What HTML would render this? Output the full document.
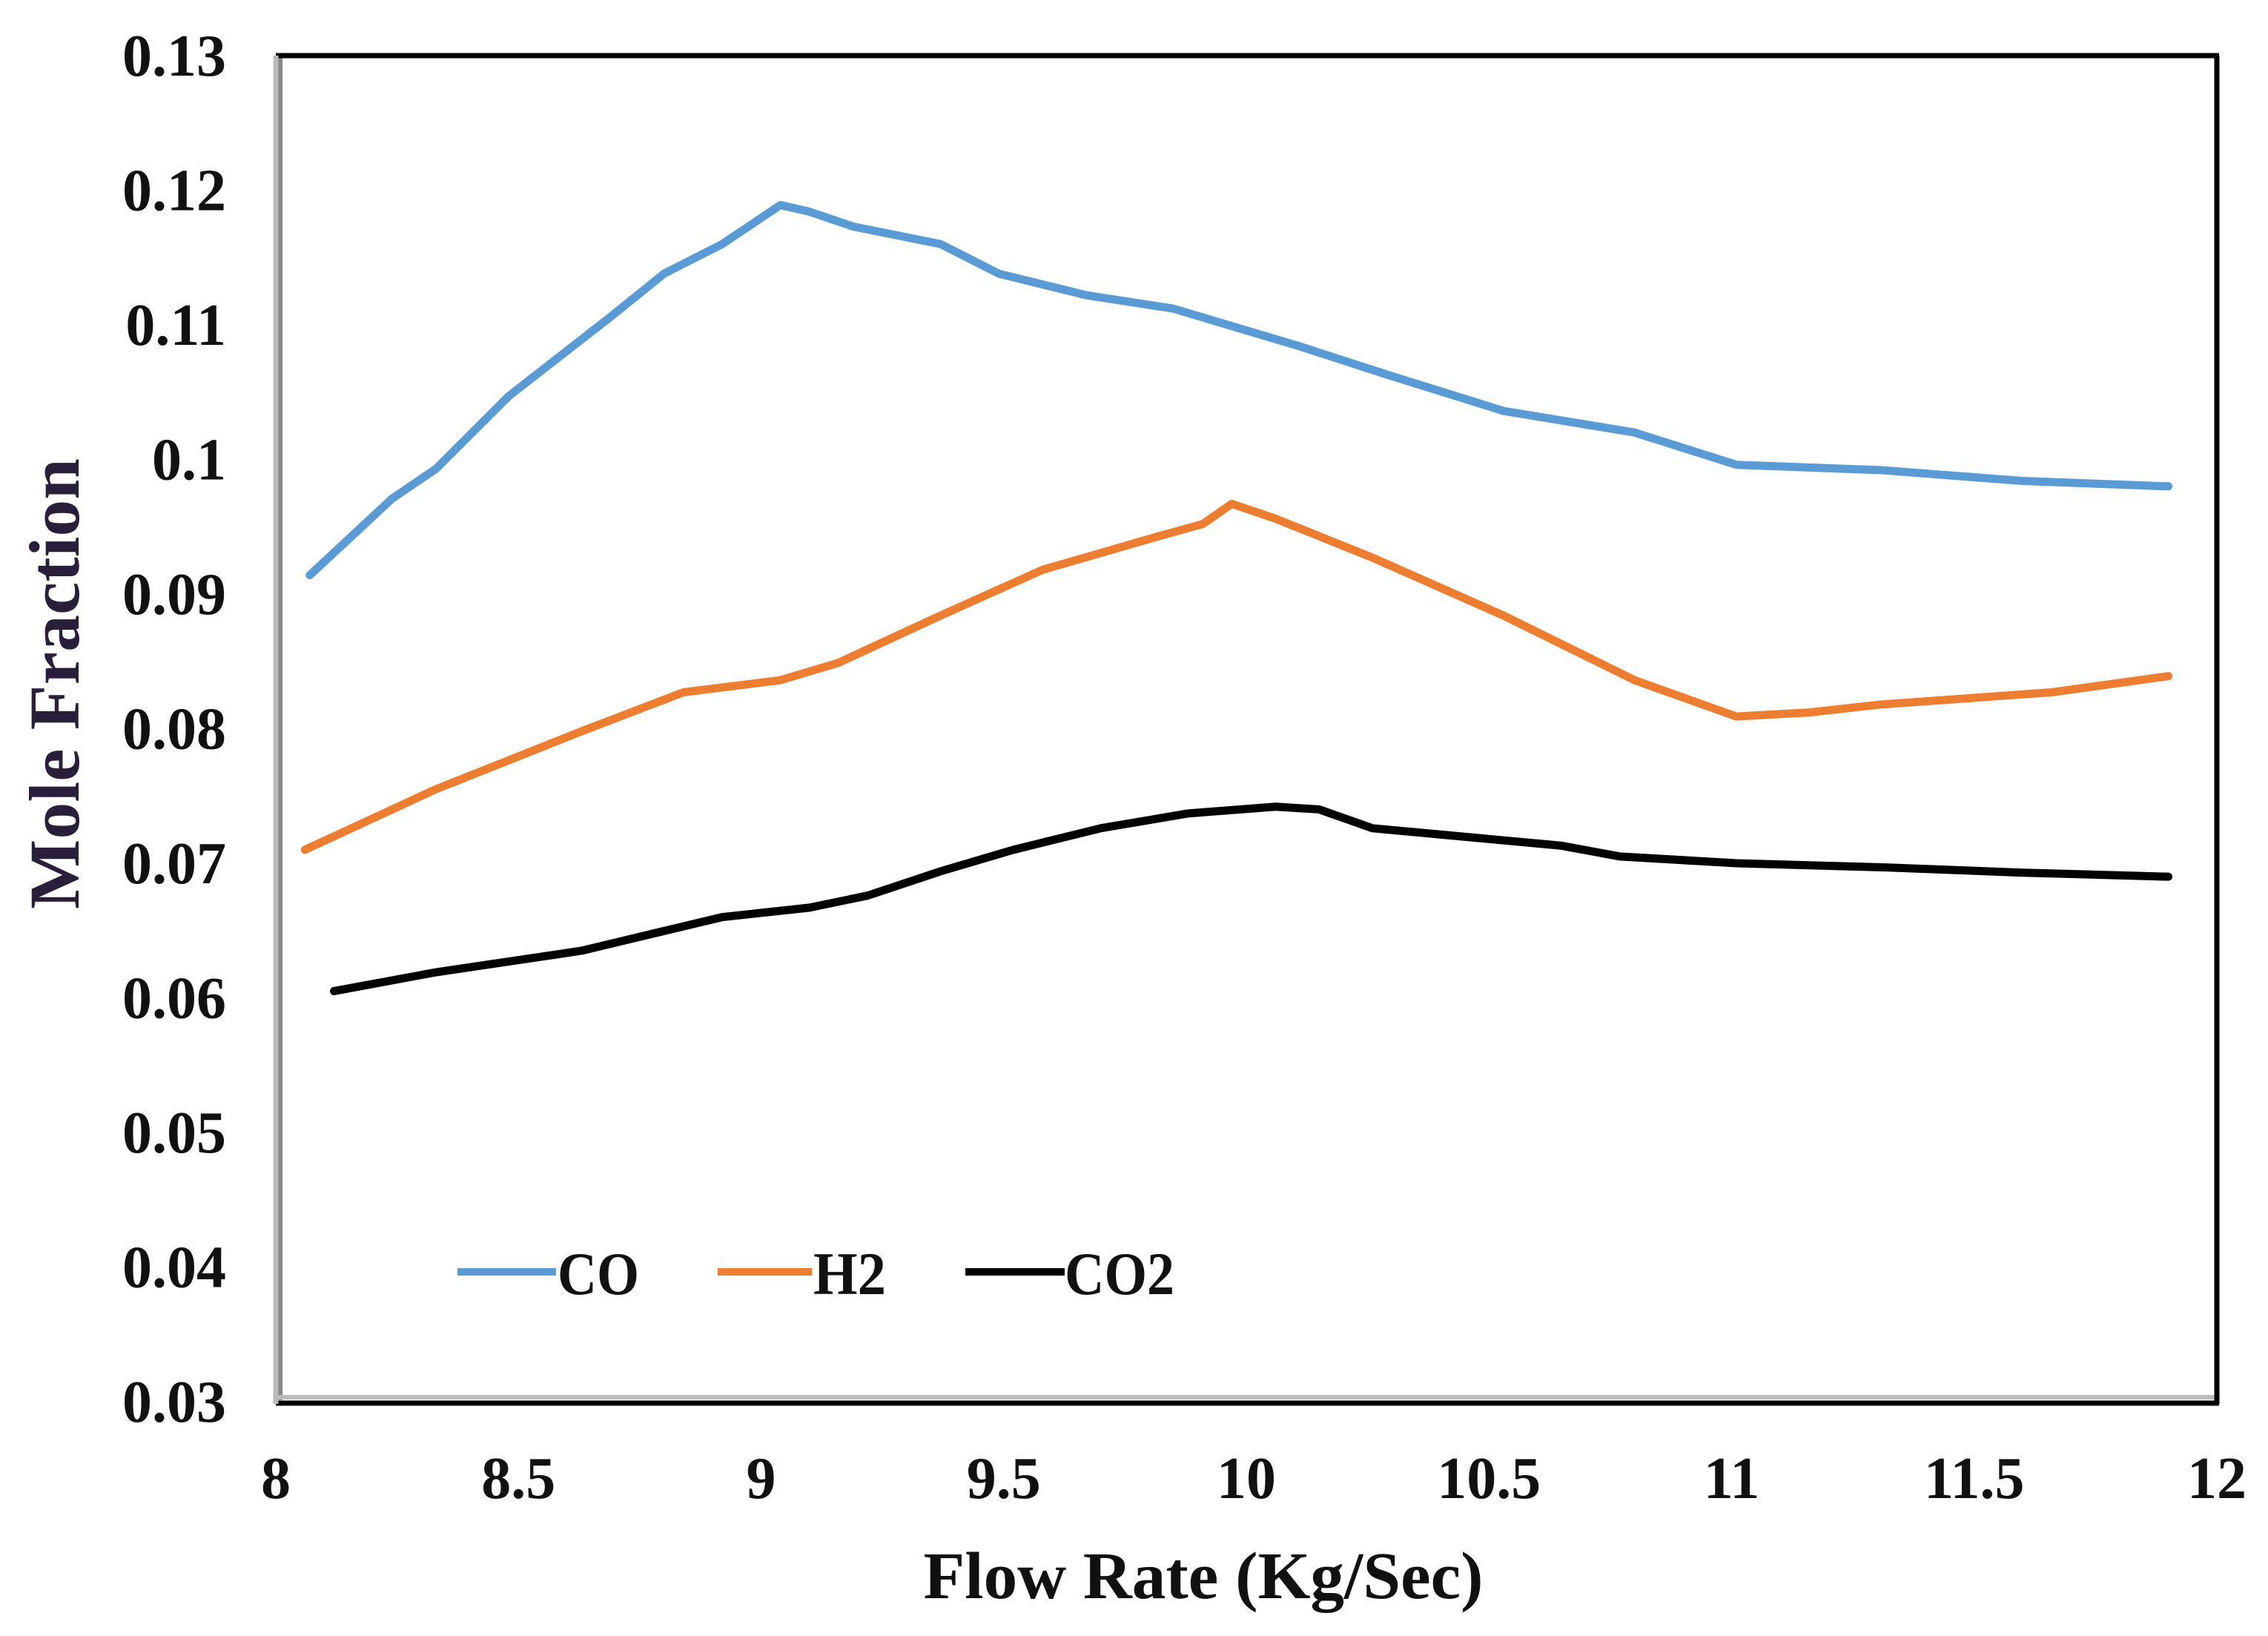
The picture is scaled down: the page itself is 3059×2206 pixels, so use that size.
<!DOCTYPE html>
<html><head><meta charset="utf-8"><style>
html,body{margin:0;padding:0;background:#fff;}
svg{display:block;}
text{font-family:"Liberation Serif",serif;font-weight:bold;fill:#111;}
</style></head><body>
<svg id="chart" width="3059" height="2206" viewBox="0 0 3059 2206" xmlns="http://www.w3.org/2000/svg">
<rect x="372" y="75" width="2618" height="1815" fill="#fff"/>
<g id="series"></g>
<line x1="378" y1="78" x2="378" y2="1888" stroke="#888" stroke-width="6"/>
<line x1="372" y1="1884" x2="2990" y2="1884" stroke="#bbb" stroke-width="6"/>
<line x1="372" y1="75" x2="2993" y2="75" stroke="#000" stroke-width="7"/>
<line x1="2990" y1="75" x2="2990" y2="1893" stroke="#000" stroke-width="7"/>
<line x1="372" y1="1892" x2="2993" y2="1892" stroke="#000" stroke-width="7"/>
<line x1="372" y1="75" x2="372" y2="1893" stroke="#bbb" stroke-width="7"/>
<g id="yticks"></g><g id="xticks"></g>
<text x="1623" y="2155" font-size="90" text-anchor="middle" textLength="755" lengthAdjust="spacingAndGlyphs">Flow Rate (Kg/Sec)</text>
<text x="0" y="0" font-size="96" text-anchor="middle" textLength="608" lengthAdjust="spacingAndGlyphs" transform="translate(106,922) rotate(-90)" style="fill:#2a1f3a">Mole Fraction</text>
<g>
<line x1="617" y1="1715" x2="750" y2="1715" stroke="#5b9bd5" stroke-width="10"/>
<text x="752" y="1745" font-size="82" textLength="110" lengthAdjust="spacingAndGlyphs">CO</text>
<line x1="968" y1="1715" x2="1095" y2="1715" stroke="#ed7d31" stroke-width="10"/>
<text x="1097" y="1745" font-size="82" textLength="98" lengthAdjust="spacingAndGlyphs">H2</text>
<line x1="1302" y1="1715" x2="1436" y2="1715" stroke="#000" stroke-width="10"/>
<text x="1436" y="1745" font-size="82" textLength="148" lengthAdjust="spacingAndGlyphs">CO2</text>
</g>
</svg>
<script>
const xTicks = [8, 8.5, 9, 9.5, 10, 10.5, 11, 11.5, 12];
const xTickLabels = ["8","8.5","9","9.5","10","10.5","11","11.5","12"];
const yTicks = [0.03,0.04,0.05,0.06,0.07,0.08,0.09,0.1,0.11,0.12,0.13];
const yTickLabels = ["0.03","0.04","0.05","0.06","0.07","0.08","0.09","0.1","0.11","0.12","0.13"];
const coX = [8.07,8.24,8.33,8.48,8.69,8.80,8.92,9.04,9.10,9.19,9.37,9.49,9.67,9.85,10.11,10.29,10.53,10.80,11.01,11.31,11.60,11.90];
const coY = [0.0914,0.0971,0.0993,0.1047,0.1106,0.1138,0.1160,0.1189,0.1184,0.1173,0.1160,0.1138,0.1122,0.1112,0.1084,0.1063,0.1036,0.1020,0.0996,0.0992,0.0984,0.0980];
const h2X = [8.06,8.33,8.63,8.84,9.04,9.16,9.37,9.58,9.82,9.91,9.97,10.06,10.26,10.53,10.80,11.01,11.16,11.31,11.66,11.90];
const h2Y = [0.0710,0.0755,0.0798,0.0827,0.0836,0.0849,0.0884,0.0918,0.0943,0.0952,0.0967,0.0956,0.0927,0.0884,0.0836,0.0809,0.0812,0.0818,0.0827,0.0839];
const co2X = [8.12,8.33,8.63,8.92,9.10,9.22,9.37,9.52,9.70,9.88,10.06,10.15,10.26,10.41,10.65,10.77,11.01,11.31,11.60,11.90];
const co2Y = [0.0605,0.0619,0.0635,0.0660,0.0667,0.0676,0.0694,0.0710,0.0726,0.0737,0.0742,0.0740,0.0726,0.0721,0.0713,0.0705,0.0700,0.0697,0.0693,0.0690];

const X0=372, X1=2990, Y0=1890, Y1=75;
function sx(v){return X0+(v-8)/(12-8)*(X1-X0);}
function sy(v){return Y0-(v-0.03)/(0.13-0.03)*(Y0-Y1);}
const NS="http://www.w3.org/2000/svg";
const yg=document.getElementById('yticks');
yTicks.forEach((t,i)=>{
  const el=document.createElementNS(NS,'text');
  
  
  el.setAttribute('x',305);el.setAttribute('y',sy(t)+27);
  el.setAttribute('font-size','80');el.setAttribute('text-anchor','end');
  el.textContent=yTickLabels[i];yg.appendChild(el);
});
const xg=document.getElementById('xticks');
xTicks.forEach((t,i)=>{
  const el=document.createElementNS(NS,'text');
  
  
  el.setAttribute('x',sx(t));el.setAttribute('y',2020);
  el.setAttribute('font-size','80');el.setAttribute('text-anchor','middle');
  el.textContent=xTickLabels[i];xg.appendChild(el);
});
const sg=document.getElementById('series');
function draw(xs,ys,color,name){
  const p=document.createElementNS(NS,'polyline');
  
  
  p.setAttribute('points',xs.map((x,i)=>sx(x)+','+sy(ys[i])).join(' '));
  p.setAttribute('fill','none');p.setAttribute('stroke',color);
  p.setAttribute('stroke-width','11');p.setAttribute('stroke-linejoin','round');
  p.setAttribute('stroke-linecap','round');
  sg.appendChild(p);
}
draw(coX,coY,'#5b9bd5','series-co');
draw(h2X,h2Y,'#ed7d31','series-h2');
draw(co2X,co2Y,'#000','series-co2');
</script>
</body></html>
